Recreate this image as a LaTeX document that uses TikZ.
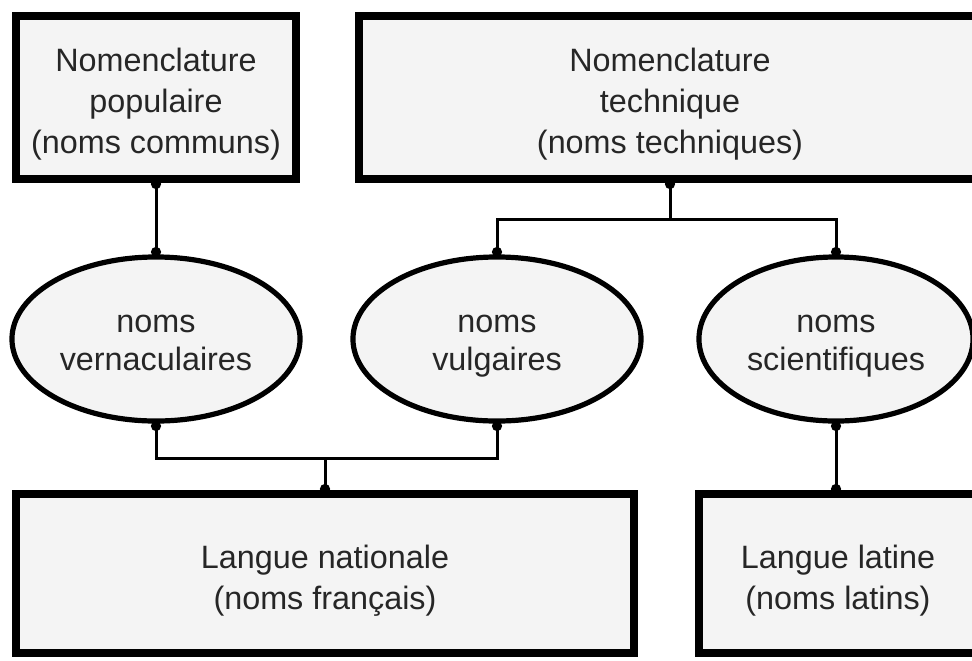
\documentclass[tikz,border=0pt]{standalone}
\usepackage{fontspec}
\setmainfont{Liberation Sans}
\usetikzlibrary{shapes.geometric, arrows.meta}
\definecolor{paper}{RGB}{244,244,244}
\newcommand{\sunk}[2]{\raisebox{-#1}[\height][\depth]{\begin{tabular}{@{}c@{}}#2\end{tabular}}}
\tikzstyle{box}=[draw, line width=0.2cm, outer sep=0pt, fill=paper, text=black!85, font=\fontsize{23}{29}\selectfont]
\tikzstyle{oval}=[ellipse, draw, line width=0.13cm, outer sep=0pt, fill=paper, inner sep=0pt, text=black!85, font=\fontsize{23}{27.5}\selectfont]
\tikzstyle{link}=[line width=0.075cm, <->]

\begin{document}
\begin{tikzpicture}[x=0.025cm, y=-0.025cm, >={Circle[length=0.25cm]}]
    \useasboundingbox (0,0) rectangle (972,660);
    \clip (0,0) rectangle (972,660);
% Nomenclatures
    \node[box, minimum width=7cm, minimum height=4.075cm] (popu) at (156,97.5) {\sunk{4.7pt}{Nomenclature\\populaire\\(noms communs)}};
    \node[box, minimum width=15.55cm, minimum height=4.075cm] (tech) at (670,97.5) {\sunk{4.7pt}{Nomenclature\\technique\\(noms techniques)}};
% Kinds of names
    \node[oval, minimum width=7.2cm, minimum height=4.1cm] (verna) at (156,339) {\sunk{3.3pt}{noms\\vernaculaires}};
    \node[oval, minimum width=7.2cm, minimum height=4.1cm] (vulg) at (497,339) {\sunk{3.3pt}{noms\\vulgaires}};
    \node[oval, minimum width=6.85cm, minimum height=4.1cm] (sci) at (836,339) {\sunk{3.3pt}{noms\\scientifiques}};
% Languages
    \node[box, minimum width=15.45cm, minimum height=3.975cm] (natio) at (325,573.5) {\sunk{5pt}{Langue nationale\\(noms français)}};
    \node[box, minimum width=6.95cm, minimum height=3.975cm] (latin) at (838,573.5) {\sunk{5pt}{Langue latine\\(noms latins)}};
% Junctions
    \coordinate (ttop) at (670,219);
    \coordinate (bjoin) at (325,458);
% Links
    \draw[link] (popu.south) -- (verna.north);
    \draw[link, <-] (tech.south) -- (ttop);
    \draw[link] (vulg.north) |- (ttop) -| (sci.north);
    \draw[link] (verna.south) |- (bjoin) -| (vulg.south);
    \draw[link, ->] (bjoin) -- (natio.north);
    \draw[link] (sci.south) -- (sci.south |- latin.north);
\end{tikzpicture}
\end{document}
